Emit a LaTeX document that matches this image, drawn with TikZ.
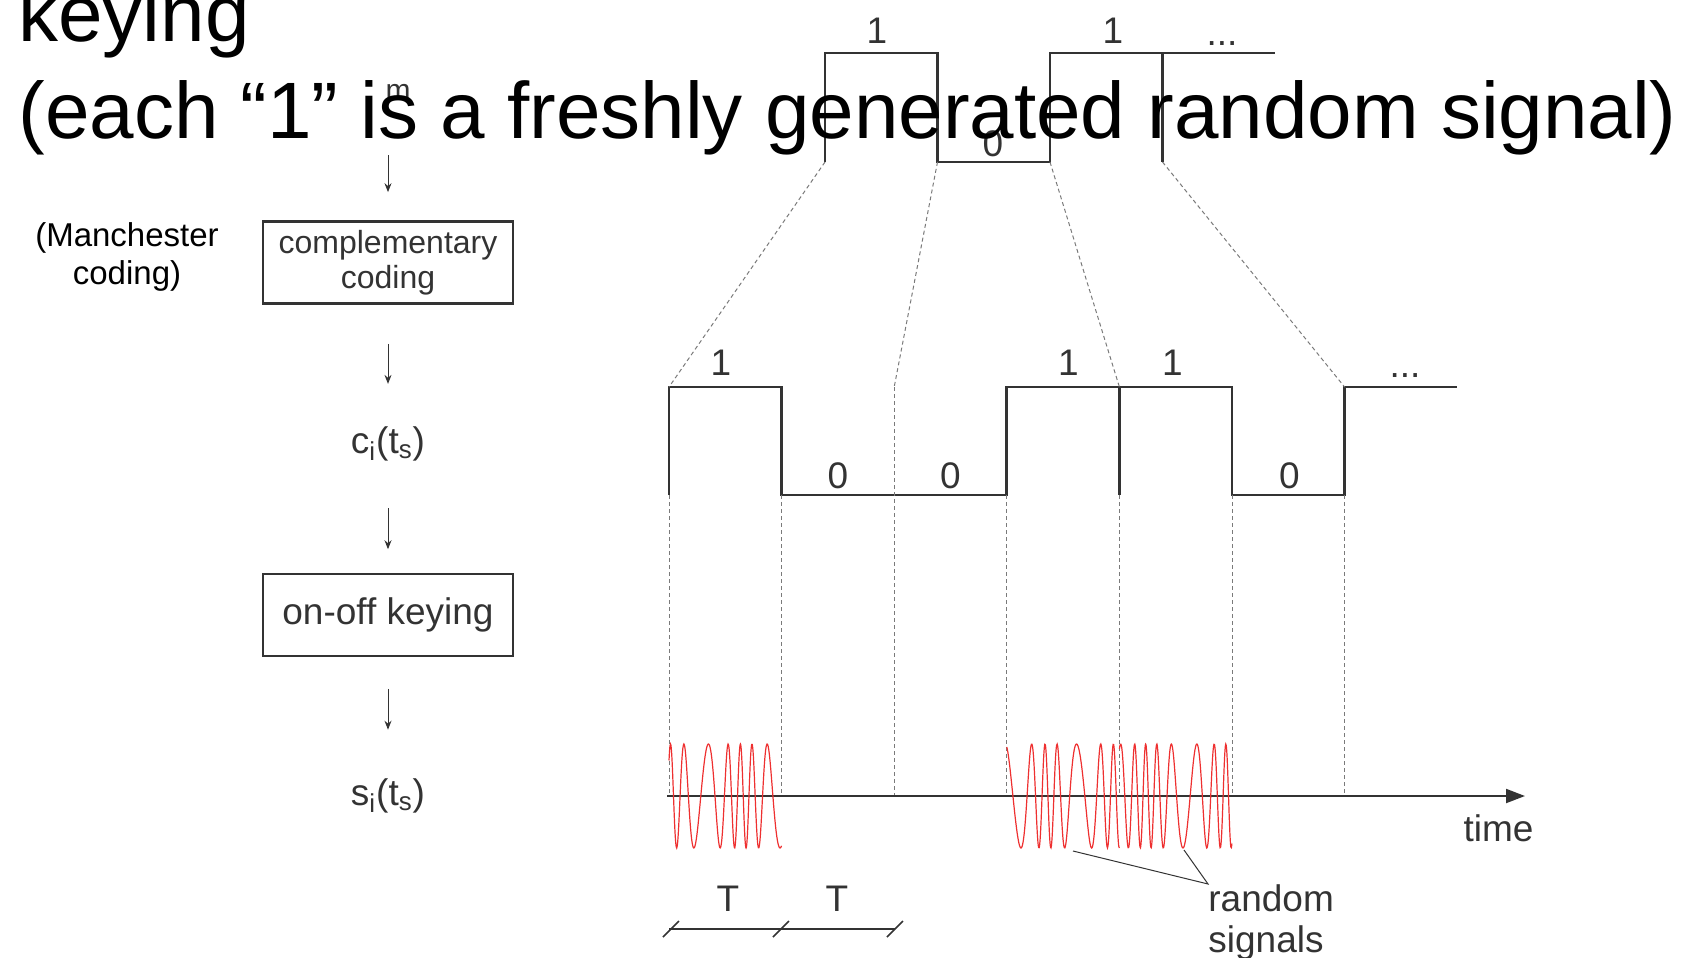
\documentclass[tikz,border=0pt]{standalone}
\usepackage{fontspec}
\setmainfont{Liberation Sans}
\usetikzlibrary{positioning,arrows.meta}

\definecolor{ink}{HTML}{333333}
\definecolor{guidegray}{HTML}{7A7A7A}
\definecolor{noisered}{HTML}{EE3030}

\begin{document}
\begin{tikzpicture}[x=0.5pt, y=-0.5pt, >={Stealth[length=4.5pt, width=3.5pt]},
    blk/.style={draw=ink, line width=1.35pt, minimum width=125pt, minimum height=41pt,
        inner sep=0pt, align=center, text=ink},
    lbl/.style={text=ink, inner sep=0pt, font=\fontsize{18.5}{21}\selectfont},
    sig/.style={draw=ink, line width=1.4pt},
    guide/.style={draw=guidegray, line width=0.5pt, dash pattern=on 2pt off 1.5pt},
    flow/.style={->, draw=ink, line width=0.5pt},
    noise/.style={draw=noisered, line width=0.6pt, smooth},
    ptr/.style={draw=ink, line width=0.5pt}]

    \useasboundingbox (0,0) rectangle (1682,958);

    % Hidden input label
    \node[lbl, font=\fontsize{15}{18}\selectfont, anchor=base] (msg) at (398,100) {m};
    \coordinate (in) at (388,155);

    % Processing chain
    \node[blk, font=\fontsize{16}{17.75}\selectfont] (cbox) at (388,262.5) {complementary\\coding};
    \node[lbl, anchor=base] (ci) at (388,453.5) {c\textsubscript{i}(t\textsubscript{s})};
    \node[blk, font=\fontsize{18.5}{21}\selectfont] (okbox) at (388,615) {on-off keying};
    \node[lbl, anchor=base] (si) at (388,805.3) {s\textsubscript{i}(t\textsubscript{s})};
    \node[inner sep=0pt, align=center, font=\fontsize{16.5}{19}\selectfont] (manch) at (127,257) {(Manchester\\coding)};

    \draw[flow, shorten >=14pt] (in) -- (cbox);
    \draw[flow, shorten <=19.5pt, shorten >=21.2pt] (cbox) -- (ci);
    \draw[flow, shorten <=23.4pt, shorten >=11.7pt] (ci) -- (okbox);
    \draw[flow, shorten <=15.7pt, shorten >=24.2pt] (okbox) -- (si);

    % Bit sequence (top)
    \draw[sig] (825,162) -- (825,53) -- (937.5,53) -- (937.5,162) -- (1050,162)
        -- (1050,53) -- (1275,53);
    \draw[sig] (1162.5,53) -- (1162.5,162);
    \node[lbl, anchor=base] (b1) at (877,43.3) {1};
    \node[lbl, anchor=base] (b2) at (993,156.7) {0};
    \node[lbl, anchor=base] (b3) at (1113,43.3) {1};
    \node[lbl, anchor=base] (b4) at (1222,45) {...};

    % Coded sequence c_i(t_s)
    \draw[sig] (669,495) -- (669,387) -- (781.6,387) -- (781.6,495) -- (1006.8,495)
        -- (1006.8,387) -- (1232,387) -- (1232,495) -- (1344.6,495) -- (1344.6,387) -- (1457,387);
    \draw[sig] (1119.4,387) -- (1119.4,495);
    \node[lbl, anchor=base] (c1) at (721,375) {1};
    \node[lbl, anchor=base] (c2) at (838,488) {0};
    \node[lbl, anchor=base] (c3) at (950.4,488) {0};
    \node[lbl, anchor=base] (c4) at (1068.4,375) {1};
    \node[lbl, anchor=base] (c5) at (1172.5,375) {1};
    \node[lbl, anchor=base] (c6) at (1289.4,488) {0};
    \node[lbl, anchor=base] (c7) at (1405,377) {...};

    % Guide lines
    \draw[guide] (825,162) -- (669,387);
    \draw[guide] (937.5,162) -- (894.2,387);
    \draw[guide] (1050,162) -- (1119.4,387);
    \draw[guide] (1162.5,162) -- (1344.6,387);
    \foreach \gx in {669,781.6,1006.8,1119.4,1232,1344.6}
        \draw[guide] (\gx,495) -- (\gx,796);
    \draw[guide] (894.2,387) -- (894.2,796);

    % Time axis
    \node[lbl] (tlab) at (1498.6,828) {time};
    \coordinate (t0) at (667,796);
    \coordinate (t1) at (1525,796);
    \draw[draw=ink, line width=1pt, -{Triangle[length=9.5pt, width=7pt]}] (t0) -- (t1);

    % Random signals s_i(t_s)
    \draw[noise] plot[domain=0:1, samples=220]
        ({669+112.6*\x}, {796-52*sin(360*(6.8*\x+0.35*sin(520*\x+20)))});
    \draw[noise] plot[domain=0:1, samples=220]
        ({1006.8+112.6*\x}, {796-52*sin(360*(6.5*\x+0.3*sin(610*\x+140))+40)});
    \draw[noise] plot[domain=0:1, samples=220]
        ({1119.4+112.6*\x}, {796-52*sin(360*(7.2*\x+0.4*sin(480*\x+250))+200)});

    \node[lbl, anchor=north west, align=left, font=\fontsize{18.5}{20.85}\selectfont] (rnd) at (1208,884) {random\\signals};
    \coordinate (rsa) at (1073,851);
    \coordinate (rsb) at (1184,850);
    \draw[ptr] (rsa) -- (rnd.north west) -- (rsb);

    % Bit duration
    \node[lbl, anchor=base] (tA) at (728,911.7) {T};
    \node[lbl, anchor=base] (tB) at (837,911.7) {T};
    \coordinate (d0) at (669,929);
    \coordinate (d1) at (895,929);
    \draw[draw=ink, line width=0.8pt] (d0) -- (d1);
    \foreach \dx in {671,781,895}
        \draw[draw=ink, line width=0.8pt] (\dx-8,937) -- (\dx+8,921);

    % Slide heading
    \node[anchor=base west, inner sep=0pt, font=\fontsize{40}{48}\selectfont] (head1) at (18,41.7) {keying};
    \node[anchor=base west, inner sep=0pt, font=\fontsize{40}{48}\selectfont] (head2) at (18,138.3)
        {(each “1” is a freshly generated random signal)};
\end{tikzpicture}
\end{document}
